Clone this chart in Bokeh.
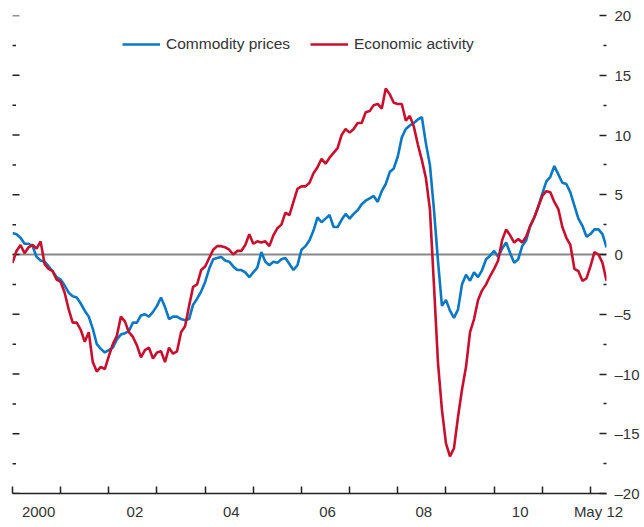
from bokeh.plotting import figure
from bokeh.models import LinearAxis, FixedTicker, Span, Legend, LegendItem, ColumnDataSource
from bokeh.embed import file_html
from bokeh.resources import INLINE

# Monthly data, Jan 2000 (index 0) to May 2012 (index 148)
commodity = [
    1.8, 1.7, 1.4, 0.9, 0.9, 0.7, -0.2, -0.5, -0.6, -1.0, -1.4, -1.9,   # 2000
    -2.1, -2.6, -3.2, -3.5, -3.6, -4.1, -4.7, -5.2, -6.2, -7.5, -7.9, -8.2,  # 2001
    -8.0, -7.8, -7.1, -6.7, -6.6, -6.4, -5.7, -5.7, -5.1, -5.0, -5.2, -4.8,  # 2002
    -4.3, -3.6, -4.4, -5.4, -5.2, -5.2, -5.4, -5.5, -5.4, -4.2, -3.7, -3.1,  # 2003
    -2.3, -1.2, -0.4, -0.3, -0.2, -0.5, -0.6, -1.0, -1.3, -1.3, -1.5, -1.9,  # 2004
    -1.5, -1.1, 0.2, -0.6, -0.9, -0.6, -0.7, -0.4, -0.3, -0.8, -1.3, -0.9,   # 2005
    0.4, 0.7, 1.2, 2.0, 3.1, 2.7, 3.0, 3.3, 2.3, 2.3, 2.9, 3.4,              # 2006
    3.0, 3.4, 3.7, 4.2, 4.5, 4.7, 4.9, 4.4, 5.3, 5.9, 6.9, 7.2,              # 2007
    8.2, 9.8, 10.5, 10.8, 11.0, 11.3, 11.5, 9.3, 7.5, 3.8, -0.5, -4.3,       # 2008
    -3.8, -4.7, -5.3, -4.6, -2.5, -1.7, -2.2, -1.5, -1.9, -1.3, -0.4, -0.1,  # 2009
    0.3, -0.2, 0.5, 1.0, 0.1, -0.7, -0.4, 0.7, 1.2, 2.4, 3.1, 4.0,           # 2010
    5.1, 6.1, 6.5, 7.4, 6.7, 6.0, 5.9, 5.2, 4.1, 3.0, 2.4, 1.5,              # 2011
    1.7, 2.1, 2.1, 1.7, 0.6,                                                 # 2012
]
activity = [
    -0.7, 0.3, 0.8, 0.1, 0.6, 0.8, 0.5, 1.1, -0.8, -1.2, -1.4, -2.1,         # 2000
    -2.3, -3.2, -4.6, -5.7, -5.7, -6.3, -7.3, -6.5, -9.0, -9.8, -9.4, -9.6,  # 2001
    -8.5, -7.5, -6.8, -5.2, -5.6, -6.5, -6.9, -7.6, -8.6, -8.0, -7.8, -8.7,  # 2002
    -8.2, -8.1, -9.0, -7.8, -8.3, -8.1, -6.5, -6.0, -4.3, -2.7, -2.5, -1.3,  # 2003
    -1.0, -0.3, 0.4, 0.7, 0.7, 0.6, 0.4, 0.0, 0.3, 0.3, 0.8, 1.7,            # 2004
    0.9, 1.1, 1.0, 1.1, 0.7, 1.6, 2.2, 2.5, 3.5, 3.3, 4.4, 5.5,              # 2005
    5.7, 5.7, 6.0, 6.8, 7.3, 8.0, 7.6, 8.1, 8.5, 8.9, 10.0, 10.5,            # 2006
    10.2, 10.5, 11.0, 11.0, 11.9, 12.0, 12.5, 12.6, 12.2, 13.9, 13.4, 12.7,  # 2007
    12.6, 12.6, 11.2, 11.6, 10.7, 9.2, 7.9, 6.4, 3.8, -2.5, -9.0, -13.0,     # 2008
    -15.8, -16.9, -16.2, -13.6, -11.3, -9.4, -6.5, -5.4, -3.8, -3.0, -2.5, -1.8,  # 2009
    -1.2, -0.5, 1.2, 2.1, 1.6, 1.0, 1.3, 1.0, 1.5, 2.4, 3.1, 4.0,            # 2010
    4.9, 5.3, 5.2, 4.4, 3.8, 2.3, 1.4, 0.8, -1.2, -1.4, -2.2, -2.0,          # 2011
    -1.0, 0.2, 0.0, -0.7, -2.2,                                              # 2012
]
months = list(range(len(commodity)))

year_ticks = [0, 12, 24, 36, 48, 60, 72, 84, 96, 108, 120, 132, 144]
x_label_pos = [6.5, 30.5, 54.5, 78.5, 102.5, 126.5, 146]
x_label_text = ["2000", "02", "04", "06", "08", "10", "May 12"]

y_ticks = [-20, -15, -10, -5, 0, 5, 10, 15, 20]
y_minor = [-17.5, -12.5, -7.5, -2.5, 2.5, 7.5, 12.5, 17.5]
y_label_text = ["\u201320", "\u201315", "\u201310", "\u20135", "0", "5", "10", "15", "20"]

series_names = ["Commodity prices", "Economic activity"]
series_colors = ["#0A78C2", "#C8102E"]

FONT = "Liberation Sans"
TXT = "#333333"
TICK = "#222222"

source = ColumnDataSource(data=dict(m=months, commodity=commodity, activity=activity))

p = figure(frame_width=594, frame_height=478, x_range=(0, 148), y_range=(-20, 20),
           output_backend="svg", toolbar_location=None,
           x_axis_location=None, y_axis_location=None,
           min_border_left=12, min_border_top=15, min_border_right=0, min_border_bottom=0)
p.outline_line_color = None
p.background_fill_color = "white"
p.border_fill_color = "white"
p.xgrid.visible = False
p.ygrid.visible = False

# x axis
xaxis = LinearAxis(ticker=FixedTicker(ticks=x_label_pos, minor_ticks=year_ticks),
                   major_label_overrides=dict(zip(x_label_pos, x_label_text)))
xaxis.major_tick_in = 0
xaxis.major_tick_out = 0
xaxis.minor_tick_in = 7
xaxis.minor_tick_out = 0
xaxis.minor_tick_line_color = TICK
xaxis.minor_tick_line_width = 1.5
xaxis.axis_line_color = TICK
xaxis.axis_line_width = 1.5
xaxis.major_label_standoff = 9
xaxis.major_label_text_font = FONT
xaxis.major_label_text_font_size = "15px"
xaxis.major_label_text_color = TXT
p.add_layout(xaxis, "below")

# right y axis
raxis = LinearAxis(ticker=FixedTicker(ticks=y_ticks, minor_ticks=y_minor),
                   major_label_overrides=dict(zip(y_ticks, y_label_text)))
raxis.axis_line_color = None
raxis.major_tick_in = 7
raxis.major_tick_out = 0
raxis.minor_tick_in = 3
raxis.minor_tick_out = 0
raxis.major_tick_line_color = TICK
raxis.minor_tick_line_color = TICK
raxis.major_tick_line_width = 1.5
raxis.minor_tick_line_width = 1.5
raxis.major_label_standoff = 8
raxis.major_label_text_font = FONT
raxis.major_label_text_font_size = "15px"
raxis.major_label_text_color = TXT
p.add_layout(raxis, "right")

# left-edge tick marks (half of each dash is clipped by the frame)
p.scatter(x=[0] * len(y_ticks), y=y_ticks, marker="dash", size=14,
          line_color=TICK, line_width=1.5)
p.scatter(x=[0] * len(y_minor), y=y_minor, marker="dash", size=7,
          line_color=TICK, line_width=1.5)

zero = Span(location=0, dimension="width", line_color="#888888", line_width=2, level="underlay")
p.add_layout(zero)

r1 = p.line("m", "commodity", source=source, line_color=series_colors[0], line_width=2.6)
r2 = p.line("m", "activity", source=source, line_color=series_colors[1], line_width=2.6)

legend = Legend(items=[LegendItem(label=series_names[0], renderers=[r1]),
                       LegendItem(label=series_names[1], renderers=[r2])],
                orientation="horizontal", location=(110, 439))
legend.glyph_width = 38
legend.glyph_height = 20
legend.label_height = 20
legend.label_standoff = 6
legend.spacing = 20
legend.padding = 0
legend.margin = 0
legend.border_line_color = None
legend.background_fill_alpha = 0
legend.label_text_font = FONT
legend.label_text_font_size = "15.5px"
legend.label_text_color = TXT
p.add_layout(legend, "center")

open("out.html", "w").write(file_html(p, INLINE))
